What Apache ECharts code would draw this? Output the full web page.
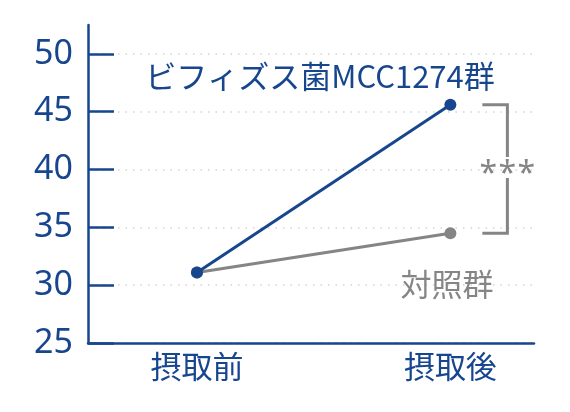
<!DOCTYPE html>
<html><head><meta charset="utf-8">
<script src="https://cdn.jsdelivr.net/npm/echarts@6/dist/echarts.min.js"></script>
<style>html,body{margin:0;padding:0;background:#fff}#c{width:570px;height:412px}</style>
</head><body><div id="c"></div>
<script>
const categories = ['摂取前', '摂取後'];
const bifidoValues = [31.1, 45.6];
const controlValues = [31.1, 34.5];
const yTicks = [25, 30, 35, 40, 45, 50];
const bifidoName = 'ビフィズス菌MCC1274群';
const controlName = '対照群';
const sigText = '***';

const BLUE = '#17468e';
const GRAY = '#858585';
const FONT = '"Noto Sans CJK JP","Noto Sans",sans-serif';

const chart = echarts.init(document.getElementById('c'), null, {renderer: 'canvas'});
const toPairs = arr => arr.map((v, i) => [i, v]);

chart.setOption({
  animation: false,
  grid: {left: 88, right: 36, top: 25, bottom: 69},
  xAxis: {
    type: 'value', min: -0.43, max: 1.33,
    splitLine: {show: false},
    axisLine: {onZero: false, lineStyle: {color: BLUE, width: 2.5}},
    axisTick: {show: false},
    axisLabel: {
      customValues: categories.map((c, i) => i),
      formatter: v => categories[Math.round(v)] || '',
      color: BLUE, fontSize: 31, fontFamily: FONT, margin: 8
    }
  },
  yAxis: {
    type: 'value', min: 25, max: 52.5,
    axisLine: {show: true, onZero: false, lineStyle: {color: BLUE, width: 2.5}},
    axisTick: {show: true, inside: true, length: 26, customValues: yTicks, lineStyle: {color: BLUE, width: 2.5}},
    axisLabel: {customValues: yTicks, color: BLUE, fontSize: 34, fontFamily: '"Noto Sans",sans-serif', margin: 15},
    splitLine: {show: true, lineStyle: {color: '#d4d4d4', type: [1.5, 6], width: 1.5}}
  },
  series: [
    {type: 'line', data: toPairs(controlValues), symbol: 'circle', symbolSize: 12,
     lineStyle: {color: GRAY, width: 3}, itemStyle: {color: GRAY}, z: 2},
    {type: 'line', data: toPairs(bifidoValues), symbol: 'circle', symbolSize: 12,
     lineStyle: {color: BLUE, width: 3}, itemStyle: {color: BLUE}, z: 3}
  ]
});

function px(i, v) { return chart.convertToPixel({gridIndex: 0}, [i, v]); }
const pTop = px(1, bifidoValues[1]);
const pBot = px(1, controlValues[1]);
const bx = pTop[0] + 57, bx0 = pTop[0] + 32;
const mid = (pTop[1] + pBot[1]) / 2;
const stars = sigText.split('').map((ch, k) => ({
  type: 'text', x: bx + (k - 1) * 19, y: mid + 6,
  style: {text: ch, fill: GRAY, font: '32px "Noto Sans",sans-serif', align: 'center', verticalAlign: 'middle'}
}));
chart.setOption({
  graphic: [
    {type: 'polyline', shape: {points: [[bx0, pTop[1]], [bx, pTop[1]], [bx, mid - 12]]},
     style: {stroke: GRAY, lineWidth: 3, fill: null}},
    {type: 'polyline', shape: {points: [[bx, mid + 9], [bx, pBot[1]], [bx0, pBot[1]]]},
     style: {stroke: GRAY, lineWidth: 3, fill: null}},
    ...stars,
    {type: 'text', x: 320, y: 76, style: {text: bifidoName, fill: BLUE, font: '31px ' + FONT, align: 'center', verticalAlign: 'middle'}},
    {type: 'text', x: 447, y: 284, style: {text: controlName, fill: GRAY, font: '31px ' + FONT, align: 'center', verticalAlign: 'middle'}}
  ]
});
</script></body></html>
